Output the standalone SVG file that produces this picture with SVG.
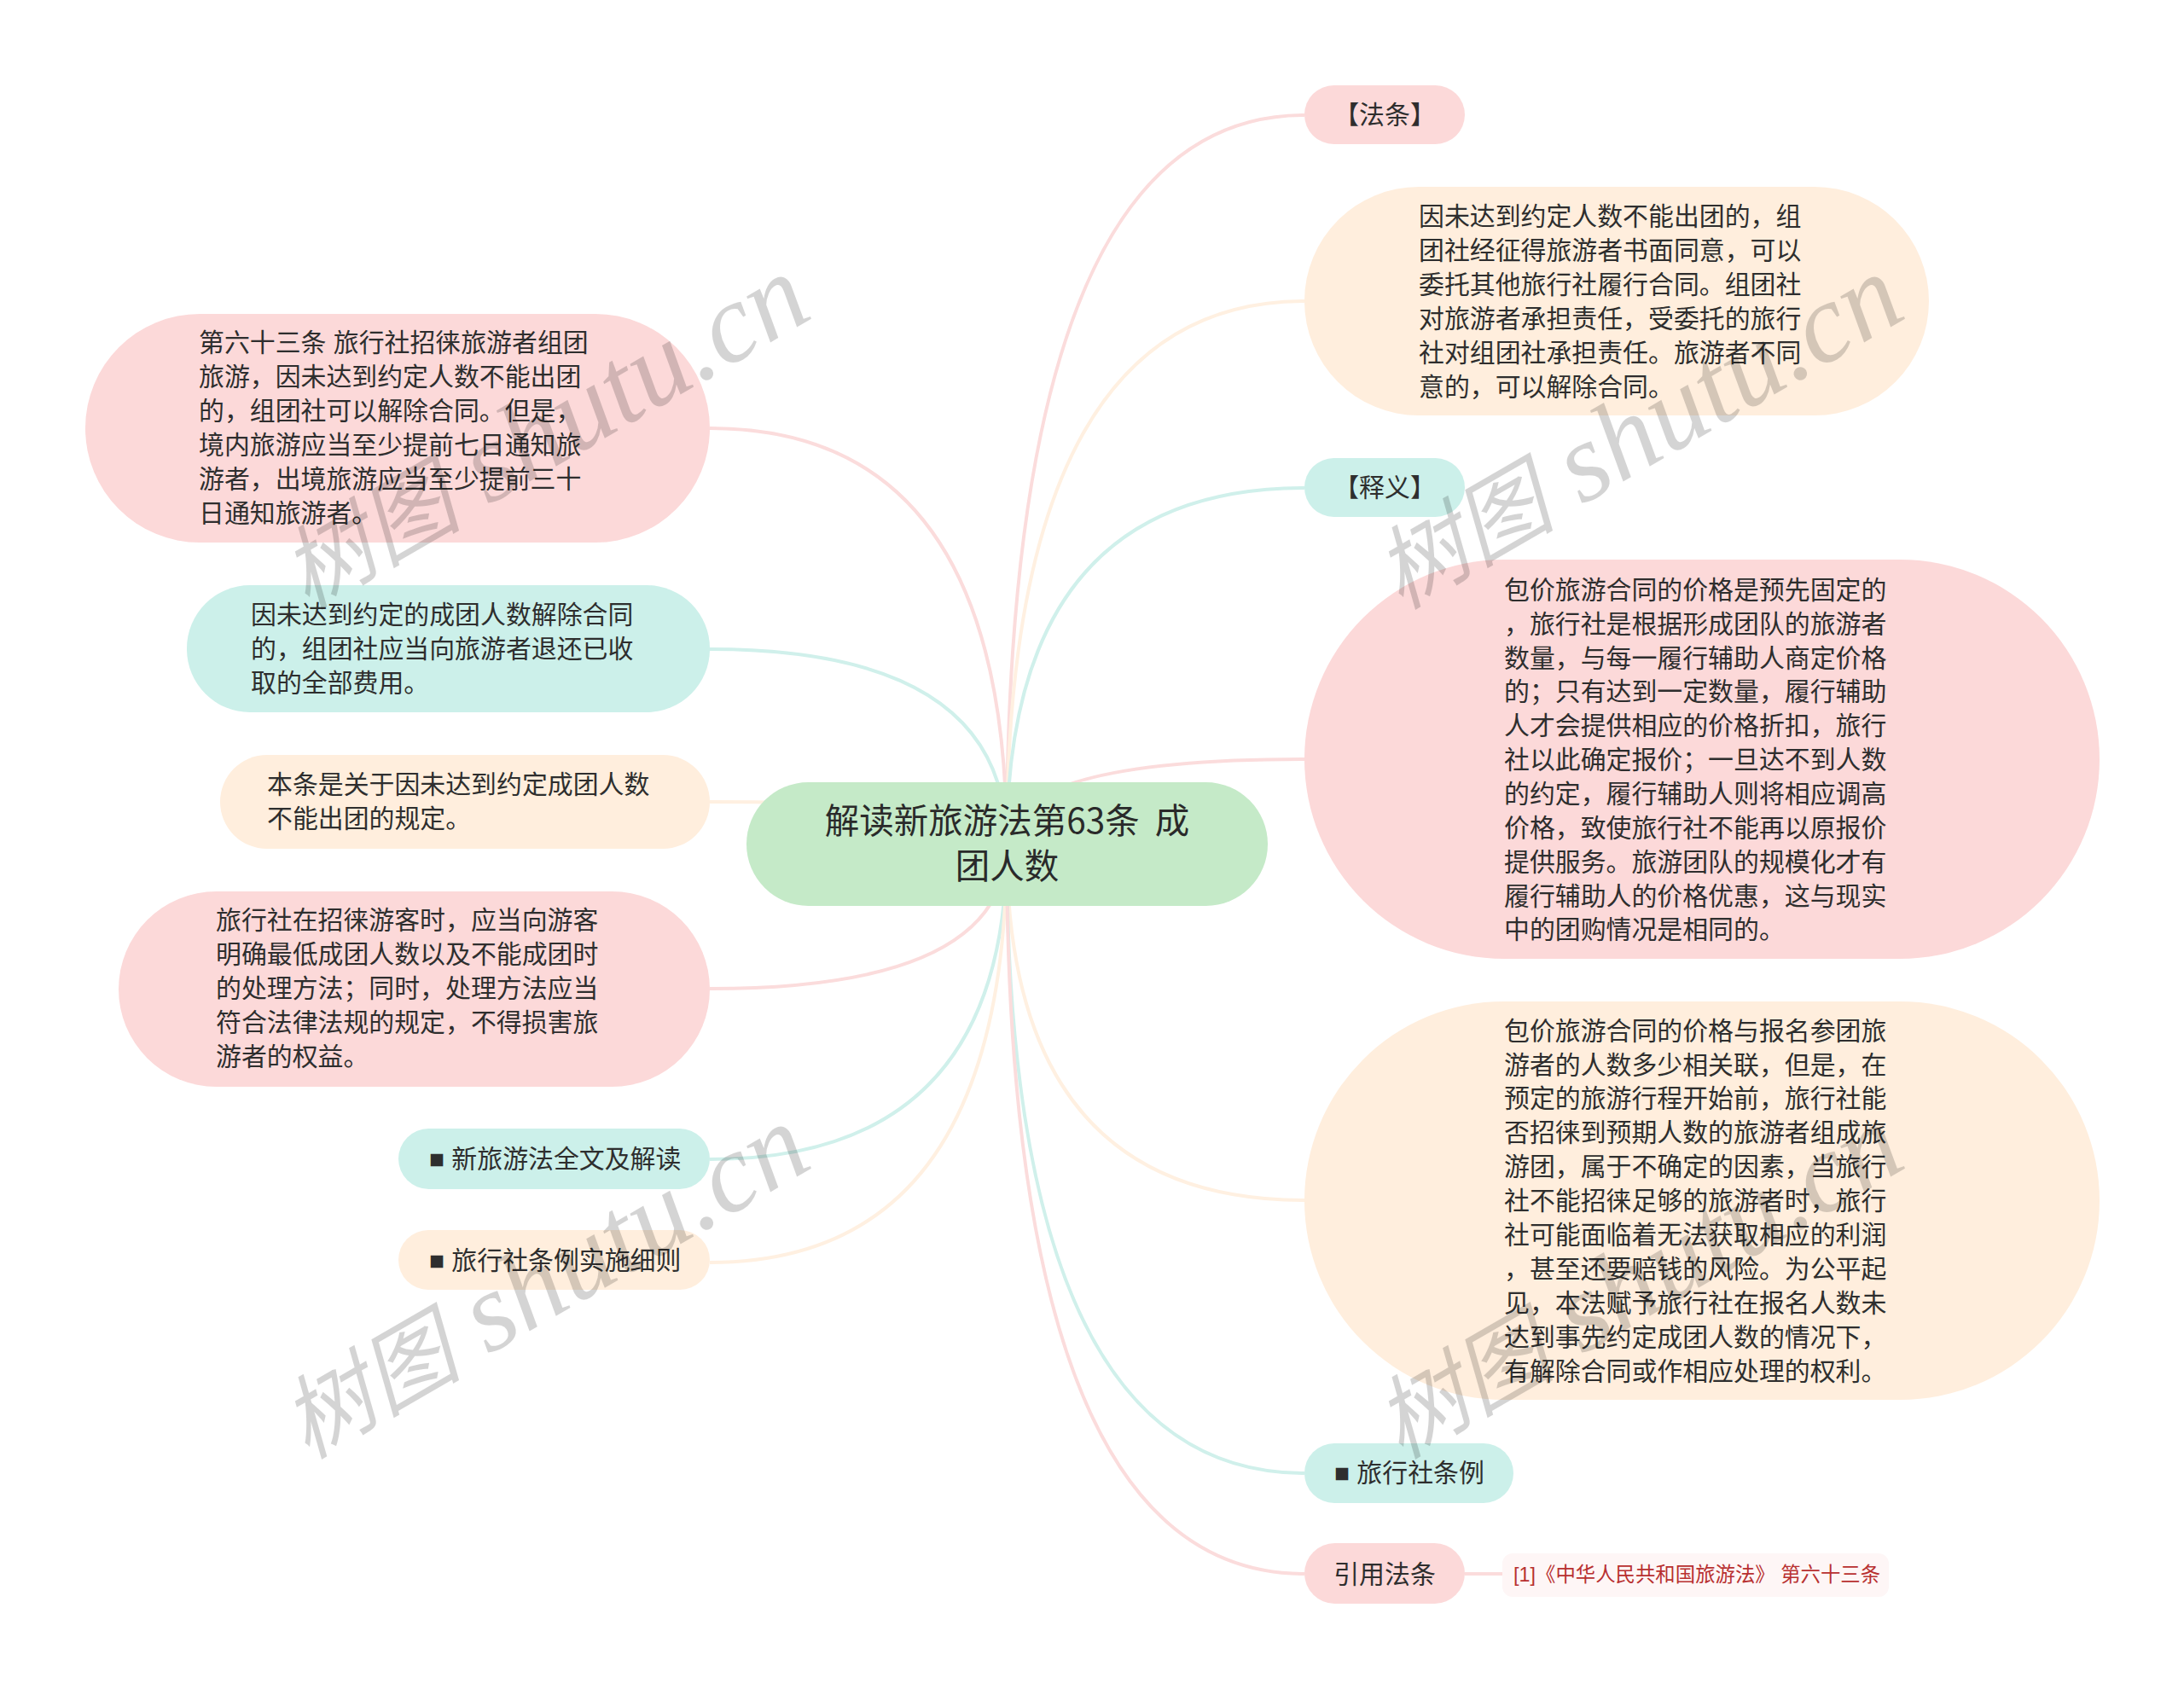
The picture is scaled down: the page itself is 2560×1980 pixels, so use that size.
<svg xmlns="http://www.w3.org/2000/svg" width="2560" height="1980" viewBox="0 0 2560 1980">
<style>
text{font-family:"Liberation Sans","Noto Sans CJK SC",sans-serif;fill:#2e2e2e;font-size:29.9px;font-weight:400}
.root{font-family:"Noto Sans CJK SC",sans-serif;font-size:40.5px;font-weight:400;fill:#2a2a2a}
.m{text-anchor:middle}
.pink{fill:#fcd9d9}.green{fill:#ccf0ea}.peach{fill:#ffeedd}
.lp,.lg,.lc{fill:none;stroke-width:4}
.lp{stroke:#fbdcdc}.lg{stroke:#d0f0eb}.lc{stroke:#fff0e1}
.ref{font-size:23.4px;fill:#b83030}
.wm{font-family:"Liberation Serif","Noto Sans CJK SC",serif;font-style:italic;font-size:132px;fill:#000;fill-opacity:.17;text-anchor:middle;font-weight:400}
.wc{font-family:"Noto Sans CJK SC",serif;font-size:106px}
</style>
<rect width="2560" height="1980" fill="#fff"/>
<g id="connectors">
<path class="lp" d="M1180 990Q1180 502 832 502"/>
<path class="lg" d="M1180 990Q1180 761 832 761"/>
<path class="lc" d="M1180 990Q1180 940 832 940"/>
<path class="lp" d="M1180 990Q1180 1159 832 1159"/>
<path class="lg" d="M1180 990Q1180 1359 832 1359"/>
<path class="lc" d="M1180 990Q1180 1480 832 1480"/>
<path class="lp" d="M1180 990Q1180 135 1529 135"/>
<path class="lc" d="M1180 990Q1180 353 1529 353"/>
<path class="lg" d="M1180 990Q1180 572 1529 572"/>
<path class="lp" d="M1180 990Q1180 890 1529 890"/>
<path class="lc" d="M1180 990Q1180 1407 1529 1407"/>
<path class="lg" d="M1180 990Q1180 1727 1529 1727"/>
<path class="lp" d="M1180 990Q1180 1845 1529 1845"/>
<path class="lp" d="M1717 1845H1761"/>
</g>
<g id="root">
<rect x="875" y="917" width="611" height="145" rx="72.5" fill="#c5eac8"/>
<text class="root m" xml:space="preserve"><tspan x="1180.5" y="977">解读新旅游法第63条  成</tspan><tspan x="1180.5" y="1030">团人数</tspan></text>
</g>
<g id="n1">
<rect class="pink" x="100" y="368" width="732" height="268" rx="134"/>
<text><tspan x="233" y="412">第六十三条 旅行社招徕旅游者组团</tspan><tspan x="233" y="452">旅游，因未达到约定人数不能出团</tspan><tspan x="233" y="492">的，组团社可以解除合同。但是，</tspan><tspan x="233" y="532">境内旅游应当至少提前七日通知旅</tspan><tspan x="233" y="572">游者，出境旅游应当至少提前三十</tspan><tspan x="233" y="612">日通知旅游者。</tspan></text>
</g>
<g id="n2">
<rect class="green" x="219" y="686" width="613" height="149" rx="74"/>
<text><tspan x="294" y="731">因未达到约定的成团人数解除合同</tspan><tspan x="294" y="771">的，组团社应当向旅游者退还已收</tspan><tspan x="294" y="811">取的全部费用。</tspan></text>
</g>
<g id="n3">
<rect class="peach" x="258" y="885" width="574" height="110" rx="55"/>
<text><tspan x="313" y="930">本条是关于因未达到约定成团人数</tspan><tspan x="313" y="970">不能出团的规定。</tspan></text>
</g>
<g id="n4">
<rect class="pink" x="139" y="1045" width="693" height="229" rx="114.5"/>
<text><tspan x="253" y="1089">旅行社在招徕游客时，应当向游客</tspan><tspan x="253" y="1129">明确最低成团人数以及不能成团时</tspan><tspan x="253" y="1169">的处理方法；同时，处理方法应当</tspan><tspan x="253" y="1209">符合法律法规的规定，不得损害旅</tspan><tspan x="253" y="1249">游者的权益。</tspan></text>
</g>
<g id="n5">
<rect class="green" x="467" y="1323" width="365" height="71" rx="35.5"/>
<text x="503" y="1369">■ 新旅游法全文及解读</text>
</g>
<g id="n6">
<rect class="peach" x="467" y="1442" width="365" height="70" rx="35"/>
<text x="503" y="1488">■ 旅行社条例实施细则</text>
</g>
<g id="r1">
<rect class="pink" x="1529" y="100" width="188" height="69" rx="34.5"/>
<text class="m" x="1623" y="145">【法条】</text>
</g>
<g id="r2">
<rect class="peach" x="1529" y="219" width="732" height="268" rx="134"/>
<text><tspan x="1663" y="264">因未达到约定人数不能出团的，组</tspan><tspan x="1663" y="304">团社经征得旅游者书面同意，可以</tspan><tspan x="1663" y="344">委托其他旅行社履行合同。组团社</tspan><tspan x="1663" y="384">对旅游者承担责任，受委托的旅行</tspan><tspan x="1663" y="424">社对组团社承担责任。旅游者不同</tspan><tspan x="1663" y="464">意的，可以解除合同。</tspan></text>
</g>
<g id="r3">
<rect class="green" x="1529" y="537" width="188" height="69" rx="34.5"/>
<text class="m" x="1623" y="582">【释义】</text>
</g>
<g id="r4">
<rect class="pink" x="1529" y="656" width="932" height="468" rx="234"/>
<text><tspan x="1763" y="702">包价旅游合同的价格是预先固定的</tspan><tspan x="1763" y="742">，旅行社是根据形成团队的旅游者</tspan><tspan x="1763" y="782">数量，与每一履行辅助人商定价格</tspan><tspan x="1763" y="821">的；只有达到一定数量，履行辅助</tspan><tspan x="1763" y="861">人才会提供相应的价格折扣，旅行</tspan><tspan x="1763" y="901">社以此确定报价；一旦达不到人数</tspan><tspan x="1763" y="941">的约定，履行辅助人则将相应调高</tspan><tspan x="1763" y="981">价格，致使旅行社不能再以原报价</tspan><tspan x="1763" y="1021">提供服务。旅游团队的规模化才有</tspan><tspan x="1763" y="1061">履行辅助人的价格优惠，这与现实</tspan><tspan x="1763" y="1100">中的团购情况是相同的。</tspan></text>
</g>
<g id="r5">
<rect class="peach" x="1529" y="1174" width="932" height="467" rx="233.5"/>
<text><tspan x="1763" y="1219">包价旅游合同的价格与报名参团旅</tspan><tspan x="1763" y="1259">游者的人数多少相关联，但是，在</tspan><tspan x="1763" y="1298">预定的旅游行程开始前，旅行社能</tspan><tspan x="1763" y="1338">否招徕到预期人数的旅游者组成旅</tspan><tspan x="1763" y="1378">游团，属于不确定的因素，当旅行</tspan><tspan x="1763" y="1418">社不能招徕足够的旅游者时，旅行</tspan><tspan x="1763" y="1458">社可能面临着无法获取相应的利润</tspan><tspan x="1763" y="1498">，甚至还要赔钱的风险。为公平起</tspan><tspan x="1763" y="1538">见，本法赋予旅行社在报名人数未</tspan><tspan x="1763" y="1578">达到事先约定成团人数的情况下，</tspan><tspan x="1763" y="1618">有解除合同或作相应处理的权利。</tspan></text>
</g>
<g id="r6">
<rect class="green" x="1529" y="1692" width="245" height="70" rx="35"/>
<text x="1564" y="1737">■ 旅行社条例</text>
</g>
<g id="r7">
<rect class="pink" x="1529" y="1809" width="188" height="71" rx="35.5"/>
<text class="m" x="1623" y="1856">引用法条</text>
</g>
<g id="ref">
<rect x="1761" y="1821" width="453" height="51" rx="12" fill="#fef6f6"/>
<text class="ref" x="1774" y="1854">[1]《中华人民共和国旅游法》 第六十三条</text>
</g>
<g id="watermarks">
<text class="wm" transform="translate(658 543) rotate(-30)"><tspan class="wc">树图</tspan> shutu.cn</text>
<text class="wm" transform="translate(658 1539) rotate(-30)"><tspan class="wc">树图</tspan> shutu.cn</text>
<text class="wm" transform="translate(1940 543) rotate(-30)"><tspan class="wc">树图</tspan> shutu.cn</text>
<text class="wm" transform="translate(1940 1539) rotate(-30)"><tspan class="wc">树图</tspan> shutu.cn</text>
</g>
</svg>
